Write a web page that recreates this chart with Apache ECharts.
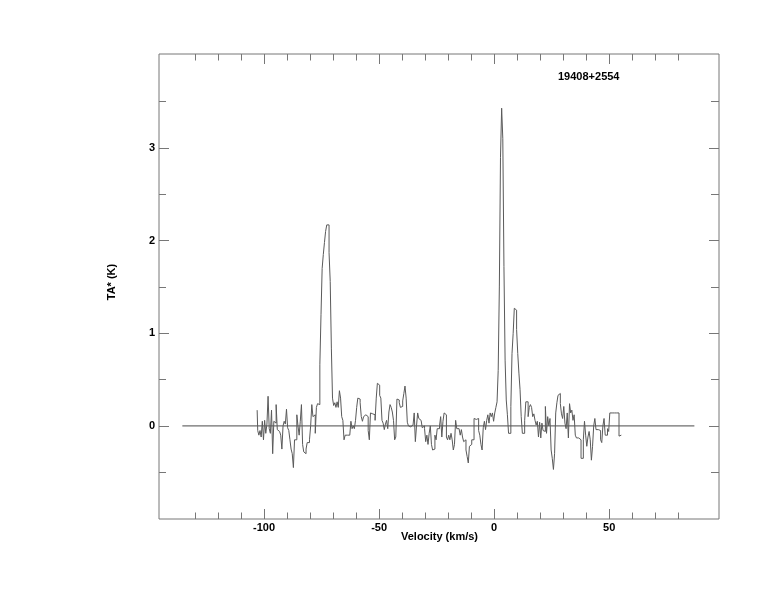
<!DOCTYPE html>
<html><head><meta charset="utf-8">
<script src="https://cdn.jsdelivr.net/npm/echarts@6/dist/echarts.min.js"></script>
<style>html,body{margin:0;padding:0;background:#fff}#c{width:774px;height:612px}</style>
</head><body><div id="c"></div>
<script>
// ---- data ----
const SOURCE_NAME = '19408+2554';
const X_NAME = 'Velocity (km/s)';
const Y_NAME = 'TA* (K)';
const V_START = -103.0;   // velocity of first channel (km/s)
const V_STEP = 0.5;       // channel width (km/s)
const TA = [
  0.17,-0.05,-0.10,-0.05,-0.12, 0.05,-0.15, 0.06,-0.08, 0.02, 0.32,-0.03,-0.08, 0.17,-0.30, 0.05, 0.03, 0.23,-0.04,-0.06,
 -0.04,-0.10,-0.25, 0.00, 0.05, 0.02, 0.18,-0.02,-0.05,-0.15,-0.25,-0.30,-0.45,-0.15,-0.15, 0.12, 0.00,-0.10, 0.05, 0.23,
 -0.20,-0.28,-0.30,-0.25,-0.18,-0.18,-0.15, 0.00, 0.23, 0.10, 0.12,-0.08, 0.20, 0.24, 0.23, 0.66, 1.20, 1.70, 1.85, 1.98,
  2.10, 2.17, 2.17, 1.87, 1.56, 0.84, 0.30, 0.22, 0.25, 0.20, 0.26, 0.20, 0.38, 0.30, 0.10, 0.06,-0.15,-0.10,-0.10,-0.12,
 -0.10,-0.08, 0.05,-0.03, 0.00,-0.03, 0.06, 0.20, 0.30, 0.29, 0.25, 0.10, 0.05, 0.10, 0.12, 0.13, 0.10,-0.05,-0.15, 0.14,
  0.13, 0.14, 0.12, 0.06, 0.30, 0.46, 0.44, 0.33, 0.30, 0.06, 0.03,-0.04, 0.02, 0.06,-0.03, 0.15, 0.23, 0.20, 0.15, 0.06,
 -0.15,-0.12, 0.29, 0.28, 0.25, 0.20, 0.21, 0.27, 0.35, 0.43, 0.30, 0.04, 0.00,-0.01, 0.00, 0.01, 0.03, 0.14,-0.17, 0.00,
  0.14, 0.08, 0.06, 0.05,-0.02, 0.00,-0.03,-0.17,-0.10,-0.20,-0.08, 0.00,-0.20,-0.26,-0.25,-0.10,-0.15,-0.03,-0.03, 0.00,
  0.10,-0.12, 0.05, 0.14, 0.12,-0.12,-0.15,-0.10,-0.15,-0.08,-0.15,-0.26,-0.20, 0.06,-0.03,-0.03,-0.05,-0.10,-0.04,-0.12,
 -0.17,-0.15,-0.26,-0.33,-0.40,-0.22,-0.20,-0.15,-0.15, 0.08, 0.07, 0.05, 0.08,-0.05,-0.10,-0.20,-0.26,-0.02, 0.05,-0.04,
  0.06, 0.12, 0.03, 0.14, 0.10, 0.14, 0.05, 0.14, 0.20, 0.26, 0.60, 1.50, 2.90, 3.43, 3.10, 1.72, 0.71, 0.28, 0.12,-0.08,
 -0.08, 0.21, 0.78, 1.00, 1.27, 1.25, 1.04, 0.78, 0.57, 0.39, 0.10,-0.08,-0.08, 0.06, 0.26, 0.26, 0.10, 0.20, 0.23, 0.20,
  0.10, 0.13, 0.06, 0.01, 0.05,-0.12, 0.04,-0.13, 0.03,-0.05,-0.06, 0.21,-0.08, 0.10, 0.00, 0.08,-0.26,-0.35,-0.47,-0.30,
  0.14, 0.25, 0.33, 0.35, 0.24, 0.13, 0.08, 0.21, 0.03,-0.03, 0.14,-0.13, 0.24, 0.14, 0.17, 0.06, 0.12,-0.10,-0.13,-0.13,
 -0.13,-0.15,-0.35,-0.35,-0.15, 0.05,-0.10,-0.22,-0.12,-0.06,-0.15,-0.37,-0.22, 0.00, 0.08,-0.04,-0.04,-0.06,-0.05,-0.15,
 -0.18, 0.00, 0.08,-0.10,-0.10,-0.03,-0.06, 0.14, 0.14, 0.13, 0.14, 0.15, 0.14, 0.12, 0.14,-0.11,-0.10,-0.10
];
const BASELINE_X = [-135.5, 87];
const X_RANGE = [-145.65, 97.7];
const Y_RANGE = [-1.005, 4.015];
const X_MAJOR = [-100, -50, 0, 50];
const X_MINOR = [-130, -120, -110, -90, -80, -70, -60, -40, -30, -20, -10, 10, 20, 30, 40, 60, 70, 80];
const Y_MAJOR = [0, 1, 2, 3];
const Y_MINOR = [-0.5, 0.5, 1.5, 2.5, 3.5];

// ---- chart ----
const FRAME = '#777777';
const FONT = '"Liberation Sans", Arial, sans-serif';
const spectrum = TA.map((t, i) => [V_START + i * V_STEP, t]);
const baseline = BASELINE_X.map(x => [x, 0]);

function xAx(pos, ticks, len, labels) {
  return {
    type: 'value', position: pos, min: X_RANGE[0], max: X_RANGE[1],
    axisLine: { show: false, onZero: false },
    splitLine: { show: false },
    axisTick: { show: true, inside: true, length: len, customValues: ticks, lineStyle: { color: FRAME, width: 1 } },
    axisLabel: labels ? { show: true, customValues: labels, margin: 3, color: '#000', fontFamily: FONT, fontWeight: 'bold', fontSize: 11 } : { show: false }
  };
}
function yAx(pos, ticks, len, labels) {
  return {
    type: 'value', position: pos, min: Y_RANGE[0], max: Y_RANGE[1],
    axisLine: { show: false, onZero: false },
    splitLine: { show: false },
    axisTick: { show: true, inside: true, length: len, customValues: ticks, lineStyle: { color: FRAME, width: 1 } },
    axisLabel: labels ? { show: true, customValues: labels, margin: 4, color: '#000', fontFamily: FONT, fontWeight: 'bold', fontSize: 11 } : { show: false }
  };
}

const nameStyle = { fontFamily: FONT, fontWeight: 'bold', fontSize: 11, fill: '#000', align: 'center', verticalAlign: 'middle' };
const chart = echarts.init(document.getElementById('c'), null, { renderer: 'canvas' });
chart.setOption({
  animation: false,
  backgroundColor: '#fff',
  title: {
    text: SOURCE_NAME, left: 553, top: 66,
    textStyle: { fontFamily: FONT, fontWeight: 'bold', fontSize: 11, color: '#000' }
  },
  graphic: [
    { type: 'text', x: 112, y: 282, rotation: Math.PI / 2, style: Object.assign({ text: Y_NAME }, nameStyle) },
    { type: 'text', x: 439.5, y: 537, style: Object.assign({ text: X_NAME }, nameStyle) }
  ],
  grid: { left: 159, top: 54, width: 560, height: 465, show: true, borderColor: FRAME, borderWidth: 1, backgroundColor: 'transparent' },
  xAxis: [
    xAx('bottom', X_MAJOR, 10, X_MAJOR),
    xAx('bottom', X_MINOR, 6.5, null),
    xAx('top', X_MAJOR, 10, null),
    xAx('top', X_MINOR, 6.5, null)
  ],
  yAxis: [
    yAx('left', Y_MAJOR, 10, Y_MAJOR),
    yAx('left', Y_MINOR, 7, null),
    yAx('right', Y_MAJOR, 10, null),
    yAx('right', Y_MINOR, 8, null)
  ],
  series: [
    {
      type: 'line', data: baseline, xAxisIndex: 0, yAxisIndex: 0,
      symbol: 'none', lineStyle: { color: '#4a4a4a', width: 1 }, silent: true, z: 2
    },
    {
      type: 'line', data: spectrum, xAxisIndex: 0, yAxisIndex: 0, step: 'middle',
      symbol: 'none', lineStyle: { color: '#5a5a5a', width: 1 }, silent: true, z: 3
    }
  ]
});
</script>
</body></html>
